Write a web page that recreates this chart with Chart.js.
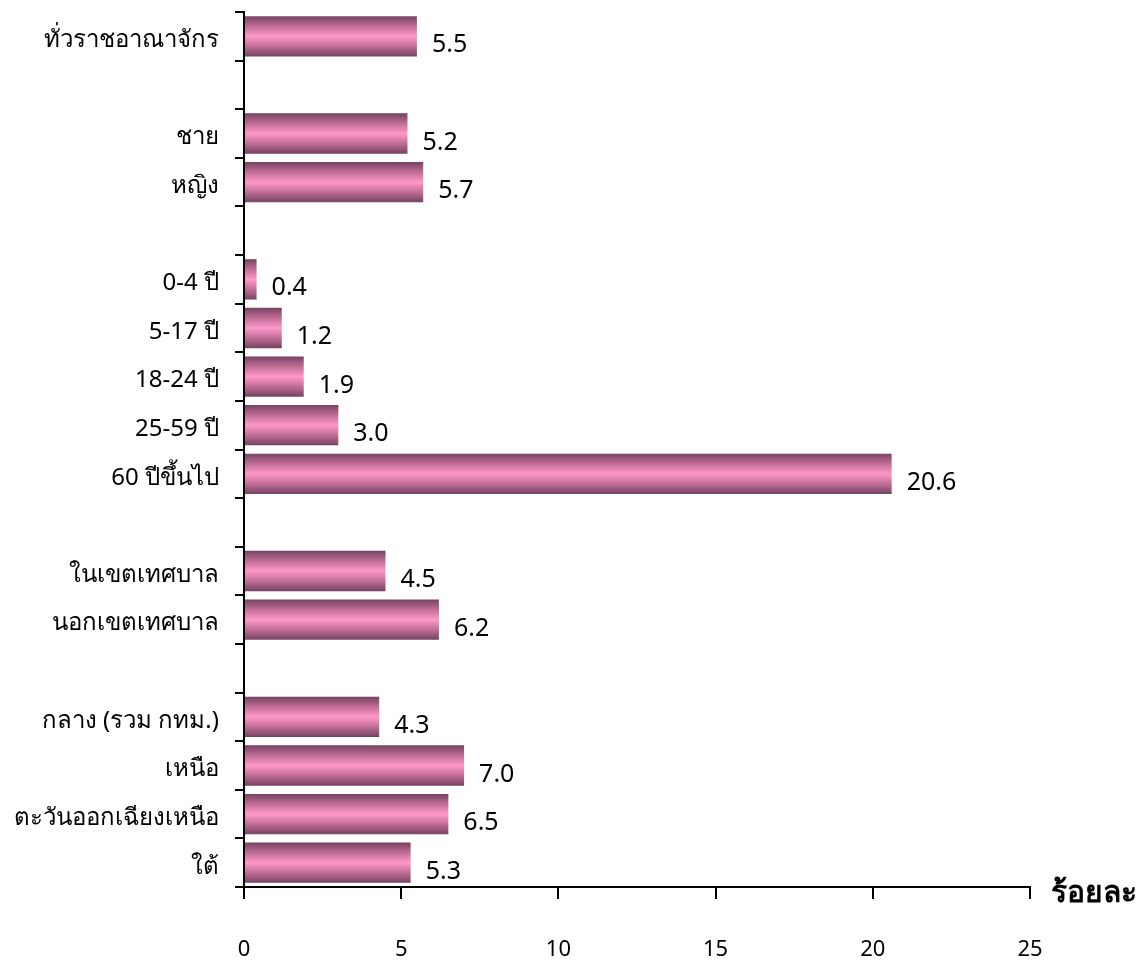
<!DOCTYPE html>
<html>
<head>
<meta charset="utf-8">
<script src="https://cdn.jsdelivr.net/npm/chart.js@4"></script>
<style>
  html, body { margin: 0; padding: 0; background: #fff; }
  #wrap { width: 1145px; height: 960px; position: relative; }
</style>
</head>
<body>
<div id="wrap"><canvas id="myChart"></canvas></div>
<script>
// category labels (empty strings are the gaps between groups)
const categories = [
  'ทั่วราชอาณาจักร', '',
  'ชาย', 'หญิง', '',
  '0-4 ปี', '5-17 ปี', '18-24 ปี', '25-59 ปี', '60 ปีขึ้นไป', '',
  'ในเขตเทศบาล', 'นอกเขตเทศบาล', '',
  'กลาง (รวม กทม.)', 'เหนือ', 'ตะวันออกเฉียงเหนือ', 'ใต้'
];
const values = [
  5.5, null,
  5.2, 5.7, null,
  0.4, 1.2, 1.9, 3.0, 20.6, null,
  4.5, 6.2, null,
  4.3, 7.0, 6.5, 5.3
];
const xTicks = [0, 5, 10, 15, 20, 25];
const unitLabel = 'ร้อยละ';

const FONT = "'Noto Sans', Tahoma, sans-serif";
const BAR_PCT = 0.83;

// vertical shaded gradient for every bar
const barGradient = (context) => {
  const chart = context.chart;
  const yScale = chart.scales.y;
  if (!yScale || !chart.chartArea) return '#ff96c8';
  const step = yScale.height / categories.length;
  const center = yScale.getPixelForValue(context.dataIndex);
  const half = step * BAR_PCT / 2;
  const g = chart.ctx.createLinearGradient(0, center - half, 0, center + half);
  g.addColorStop(0, '#744262');
  g.addColorStop(0.22, '#b8688f');
  g.addColorStop(0.5, '#ff98ca');
  g.addColorStop(0.78, '#b8688f');
  g.addColorStop(1, '#744262');
  return g;
};

const valueLabels = {
  id: 'valueLabels',
  afterDatasetsDraw(chart) {
    const ctx = chart.ctx;
    const meta = chart.getDatasetMeta(0);
    ctx.save();
    ctx.font = '25px ' + FONT;
    ctx.fillStyle = '#000';
    ctx.textAlign = 'left';
    ctx.textBaseline = 'middle';
    meta.data.forEach((bar, i) => {
      const v = values[i];
      if (v === null) return;
      ctx.fillText(v.toFixed(1), bar.x + 15, bar.y + 9);
    });
    ctx.restore();
  }
};

const unitTitle = {
  id: 'unitTitle',
  afterDraw(chart) {
    const ctx = chart.ctx;
    const x = chart.scales.x;
    ctx.save();
    ctx.font = 'bold 30px ' + FONT;
    ctx.fillStyle = '#000';
    ctx.textAlign = 'left';
    ctx.textBaseline = 'middle';
    ctx.fillText(unitLabel, x.right + 21, x.top + 6);
    ctx.restore();
  }
};

const ctx = document.getElementById('myChart').getContext('2d');
new Chart(ctx, {
  type: 'bar',
  data: {
    labels: categories,
    datasets: [{
      data: values,
      backgroundColor: barGradient,
      borderWidth: 0,
      barPercentage: BAR_PCT,
      categoryPercentage: 1
    }]
  },
  options: {
    indexAxis: 'y',
    responsive: true,
    maintainAspectRatio: false,
    animation: false,
    layout: { padding: { top: 12, right: 115, left: 0, bottom: 0 } },
    plugins: {
      legend: { display: false },
      tooltip: { enabled: false }
    },
    scales: {
      x: {
        min: 0,
        max: 25,
        afterBuildTicks: (scale) => { scale.ticks = xTicks.map(v => ({ value: v })); },
        afterFit: (scale) => { scale.height = 73; scale.paddingLeft = 0; scale.paddingRight = 0; },
        border: { display: true, color: '#000', width: 2 },
        grid: { drawOnChartArea: false, drawTicks: true, tickLength: 12, color: '#000', lineWidth: 2 },
        ticks: { color: '#000', padding: 38, font: { family: FONT, size: 22 } }
      },
      y: {
        afterFit: (scale) => { scale.width = 244; scale.paddingTop = 0; scale.paddingBottom = 0; },
        border: { display: true, color: '#000', width: 2 },
        grid: { drawOnChartArea: false, drawTicks: true, tickLength: 9, color: '#000', lineWidth: 2, offset: true },
        ticks: { color: '#000', padding: 16, labelOffset: 4, font: { family: FONT, size: 24 } }
      }
    }
  },
  plugins: [valueLabels, unitTitle]
});
</script>
</body>
</html>
